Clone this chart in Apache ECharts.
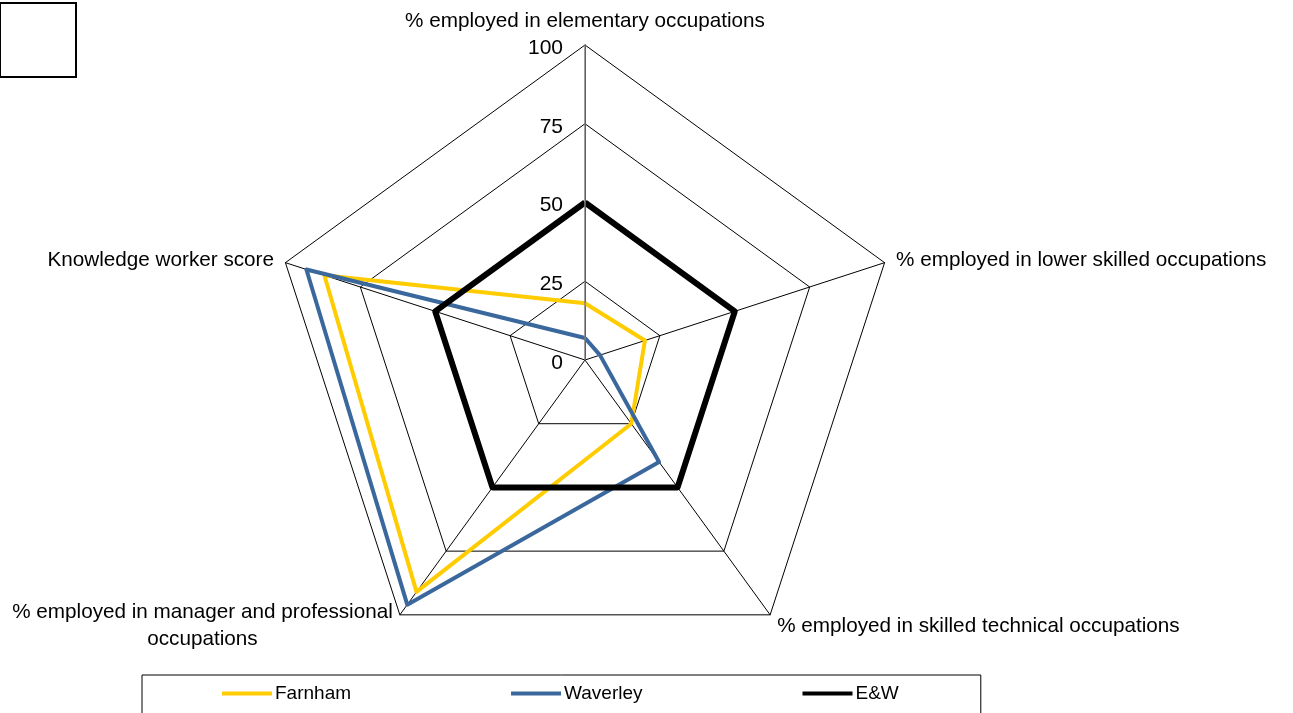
<!DOCTYPE html>
<html>
<head>
<meta charset="utf-8">
<script src="https://cdn.jsdelivr.net/npm/echarts@6/dist/echarts.min.js"></script>
<style>
html,body{margin:0;padding:0;background:#fff;}
#chart{width:1293px;height:713px;}
</style>
</head>
<body>
<div id="chart"></div>
<script>
// Indicators in ECharts drawing order (counter-clockwise from top)
var indicators = [
  '% employed in elementary occupations',
  'Knowledge worker score',
  '% employed in manager and professional\noccupations',
  '% employed in skilled technical occupations',
  '% employed in lower skilled occupations'
];
var seriesNames = ['Farnham', 'Waverley', 'E&W'];
var farnham = [18, 87, 91, 25, 20];
var waverley = [7, 93, 96, 40, 5];
var englandWales = [50, 50, 50, 50, 50];
var tickValues = [0, 25, 50, 75, 100];

var colors = ['#FFCC00', '#3A679C', '#000000'];
var widths = [4, 4, 6];
var dataSets = [farnham, waverley, englandWales];

var chart = echarts.init(document.getElementById('chart'));
var font = 'Liberation Sans, Arial, sans-serif';
var center = [585, 360];
var radius = 315;
var nameSize = 20.7;

var option = {
  animation: false,
  backgroundColor: '#fff',
  radar: {
    center: center,
    radius: radius,
    startAngle: 90,
    shape: 'polygon',
    splitNumber: 4,
    nameGap: 12,
    indicator: indicators.map(function (n) { return { name: n, min: 0, max: 100 }; }),
    axisName: {
      color: '#000',
      fontFamily: font,
      fontSize: nameSize,
      formatter: function (name) {
        return name.split('\n').map(function (l) { return '{a|' + l + '}'; }).join('\n');
      },
      rich: {
        a: { align: 'center', fontSize: nameSize, fontFamily: font, color: '#000', lineHeight: 27, padding: [3, 0, 0, 0] }
      }
    },
    axisLine: { lineStyle: { color: '#000', width: 1 } },
    splitLine: { lineStyle: { color: '#000', width: 1 } },
    splitArea: { show: false },
    axisTick: { show: false },
    axisLabel: { show: false }
  },
  polar: { center: center, radius: radius },
  angleAxis: { show: false, startAngle: 90, min: 0, max: 360 },
  radiusAxis: {
    min: 0, max: 100, interval: 25,
    z: 5,
    axisLine: { show: true, lineStyle: { color: '#808080', width: 1.5 } },
    axisTick: { show: false },
    splitLine: { show: false },
    axisLabel: {
      show: true, margin: 22, color: '#000', fontSize: 21, fontFamily: font,
      formatter: function (v) { return tickValues.indexOf(v) >= 0 ? '{t|' + v + '}' : ''; },
      rich: {
        t: { fontSize: 21, fontFamily: font, color: '#000', padding: [6, 0, 0, 0] }
      }
    }
  },
  legend: {
    left: 142,
    top: 675,
    padding: [9, 82, 20, 80],
    itemGap: 160,
    itemWidth: 50,
    itemHeight: 4,
    borderColor: '#000',
    borderWidth: 1,
    borderRadius: 0,
    icon: 'rect',
    textStyle: { color: '#000', fontSize: 19, fontFamily: font, padding: [0, 0, 0, -2] },
    data: seriesNames
  },
  graphic: [{
    type: 'rect',
    shape: { x: 0, y: 3, width: 76, height: 74 },
    style: { fill: 'none', stroke: '#000', lineWidth: 2 }
  }],
  series: [{
    type: 'radar',
    symbol: 'none',
    data: dataSets.map(function (d, i) {
      return {
        name: seriesNames[i],
        value: d,
        lineStyle: { color: colors[i], width: widths[i] },
        itemStyle: { color: colors[i] }
      };
    })
  }]
};
chart.setOption(option);
</script>
</body>
</html>
